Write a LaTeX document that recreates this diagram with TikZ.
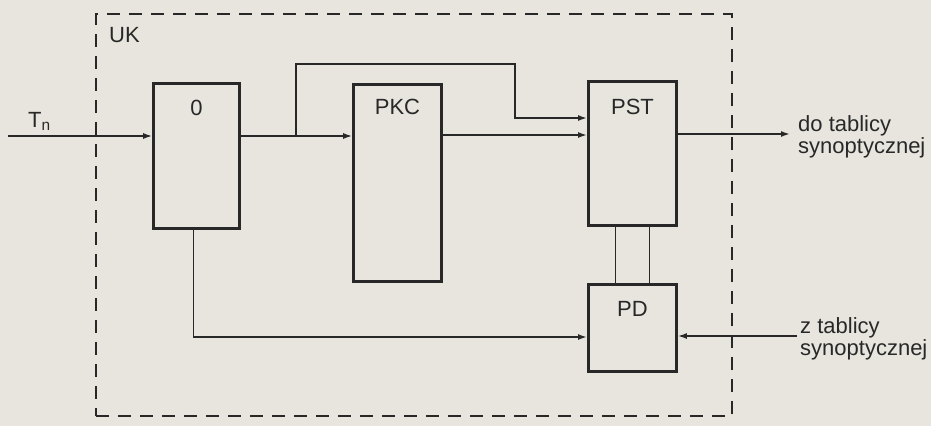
\documentclass[tikz,border=0pt]{standalone}
\usepackage{fontspec}
\setmainfont{Liberation Sans}
\usepackage{xcolor}
\usepackage{tikz}
\usetikzlibrary{arrows.meta, positioning, calc}

\definecolor{paper}{RGB}{231,229,222}
\definecolor{ink}{RGB}{40,40,40}

\begin{document}
\begin{tikzpicture}[
    x=1pt, y=-1pt,
    font=\fontsize{22}{20}\selectfont,
    block/.style={rectangle, draw=ink, line width=2.6pt, inner sep=0pt, minimum width=88pt},
    frame/.style={rectangle, draw=ink, line width=2pt, dash pattern=on 13pt off 9pt},
    tag/.style={text=ink, inner sep=0pt},
    line/.style={draw=ink, line width=1.6pt},
    arrow/.style={line, -{Latex[length=9pt,width=6pt]}}
]
    \useasboundingbox[fill=paper] (0,0) rectangle (931,426);

    % unit UK
    \node (uk) [frame, minimum width=636pt, minimum height=402pt] at (414,215) {};
    \node (uklabel) [tag, anchor=north west] at ($(uk.north west)+(14,14)$) {UK};

    % blocks
    \node (o)   [block, minimum width=86pt, minimum height=145pt] at (196.5,156) {};
    \node (pkc) [block, minimum height=197pt] at (397.5,183) {};
    \node (pst) [block, minimum height=144pt] at (632.5,153.5) {};
    \node (pd)  [block, minimum height=87pt]  at (632.5,328) {};

    \node (otext)   [tag, below=18pt of o.north]   {0};
    \node (pkctext) [tag, below=16pt of pkc.north] {PKC};
    \node (psttext) [tag, below=19pt of pst.north] {PST};
    \node (pdtext)  [tag, below=18pt of pd.north]  {PD};

    % free ends and bends
    \coordinate (tn) at (8,136);
    \coordinate (split) at (296,136);
    \coordinate (bend) at (515,64);
    \coordinate (pstin1) at (587,118);
    \coordinate (pstin2) at (587,135);
    \coordinate (pdin) at (587,337);
    \coordinate (doout) at (790,134);
    \coordinate (zin) at (797,336);

    \node (tnlabel) [tag, anchor=base west] at (28,127) {T\textsubscript{n}};
    \node (dolabel) [tag, align=left, right=8pt of doout, yshift=-3pt] {do tablicy\\synoptycznej};
    \node (zlabel)  [tag, align=left, right=3pt of zin, yshift=-3pt] {z tablicy\\synoptycznej};

    % connections
    \draw [arrow] (tn) -- (tn -| o.west);
    \draw [arrow] (o.east |- tn) -- (pkc.west |- tn);
    \draw [arrow] (split) |- (bend) |- (pstin1);
    \draw [arrow] (pkc.east |- pstin2) -- (pstin2);
    \draw [arrow] (pst.east |- doout) -- (doout);
    \draw [line] ($(pst.south)+(-17,0)$) -- ($(pd.north)+(-17,0)$);
    \draw [line] ($(pst.south)+(17,0)$) -- ($(pd.north)+(17,0)$);
    \draw [arrow] ($(o.south)+(-3,0)$) |- (pdin);
    \draw [arrow] (zin) -- (pd.east |- zin);
\end{tikzpicture}
\end{document}
